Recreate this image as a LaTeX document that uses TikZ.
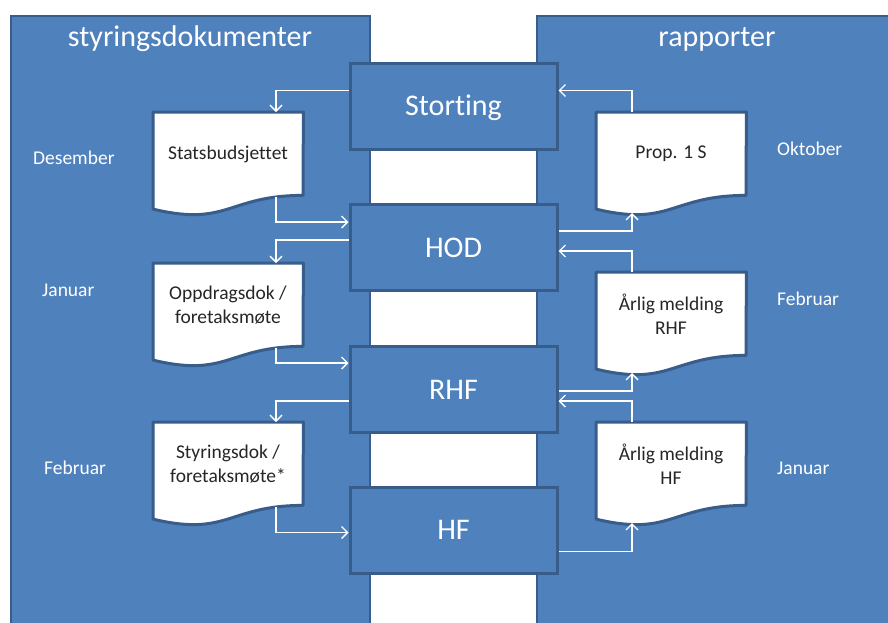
\documentclass[tikz,border=0pt]{standalone}
\usepackage{fontspec}
\setmainfont{Carlito}[Ligatures={NoCommon,NoRare}]
\usetikzlibrary{arrows.meta,calc}
\definecolor{fillblue}{HTML}{4F81BD}
\definecolor{edgeblue}{HTML}{385D8A}
\definecolor{doctxt}{HTML}{262626}
\tikzset{
 panel/.style={fill=fillblue, draw=edgeblue, line width=2.5pt},
 cbox/.style={rectangle, fill=fillblue, draw=edgeblue, line width=3pt, minimum width=207pt, minimum height=86pt, inner sep=0pt, text=white, font=\fontsize{30}{36}\selectfont, text height=22pt, text depth=3pt},
 docanchor/.style={rectangle, minimum width=150pt, minimum height=104pt, inner sep=0pt, anchor=north west},
 docshape/.style={fill=white, draw=edgeblue, line width=3pt, line join=round},
 doctext/.style={text=doctxt, align=center, font=\fontsize{19.5}{23.5}\selectfont},
 side/.style={text=white, anchor=base west, font=\fontsize{19.5}{24}\selectfont, inner sep=0pt},
 paneltitle/.style={text=white, anchor=base, font=\fontsize{30}{36}\selectfont, inner sep=0pt},
 conn/.style={draw=white, line width=1.3pt, -{Straight Barb[length=6pt,width=12pt]}},
}
\newcommand\docnode[4]{%
 \node[docanchor] (#1) at (#2,#3) {};
 \draw[docshape] (#1.north west) -- (#1.north east) -- ($(#1.north west)+(150,83.4)$) .. controls ($(#1.north west)+(75,83.4)$) and ($(#1.north west)+(75,115.1)$) .. ($(#1.north west)+(0,97.1)$) -- cycle;
 \node[doctext] (#1-t) at ($(#1.north west)+(75,42)$) {#4};
}
\begin{document}
\begin{tikzpicture}[x=1pt,y=-1pt]
\useasboundingbox (0,0) rectangle (888,622);
% panels
\draw[panel] (11,16) rectangle (370,640);
\draw[panel] (537,16) rectangle (900,640);
\node[paneltitle] (tl) at (190,46) {styringsdokumenter};
\node[paneltitle] (tr) at (717,46) {rapporter};
% central boxes
\node[cbox] (storting) at (453.5,106) {Storting};
\node[cbox] (hod) at (453.5,247.5) {HOD};
\node[cbox] (rhf) at (453.5,389.5) {RHF};
\node[cbox] (hf) at (453.5,530) {HF};
% documents
\docnode{stats}{153}{112}{Statsbudsjettet}
\docnode{oppd}{153}{263}{Oppdragsdok /\\foretaksmøte}
\docnode{styr}{153}{422}{Styringsdok /\\foretaksmøte*}
\docnode{prop}{596}{112}{Prop. 1 S}
\docnode{arhf}{596}{272}{Årlig melding\\RHF}
\docnode{ahf}{596}{422}{Årlig melding\\HF}
% side labels
\node[side] (l1) at (33,164) {Desember};
\node[side] (l2) at (42,296) {Januar};
\node[side] (l3) at (44,474) {Februar};
\node[side] (r1) at (777,155) {Oktober};
\node[side] (r2) at (777,305) {Februar};
\node[side] (r3) at (777,474) {Januar};
% connectors left
\draw[conn] ($(storting.north west)+(0,29)$) -| ($(stats.north west)+(123,0)$);
\draw[conn] ($(stats.north west)+(123,85)$) |- ($(hod.north west)+(0,19)$);
\draw[conn] ($(hod.north west)+(0,37)$) -| ($(oppd.north west)+(123,0)$);
\draw[conn] ($(oppd.north west)+(123,85)$) |- ($(rhf.north west)+(0,18)$);
\draw[conn] ($(rhf.north west)+(0,56)$) -| ($(styr.north west)+(123,0)$);
\draw[conn] ($(styr.north west)+(123,85)$) |- ($(hf.north west)+(0,47)$);
% connectors right
\draw[conn] ($(prop.north west)+(36,0)$) |- ($(storting.north east)+(0,29)$);
\draw[conn] ($(hod.north east)+(0,28)$) -| ($(prop.north west)+(36,101)$);
\draw[conn] ($(arhf.north west)+(36,0)$) |- ($(hod.north east)+(0,48)$);
\draw[conn] ($(rhf.north east)+(0,46)$) -| ($(arhf.north west)+(36,101)$);
\draw[conn] ($(ahf.north west)+(36,0)$) |- ($(rhf.north east)+(0,56)$);
\draw[conn] ($(hf.north east)+(0,66)$) -| ($(ahf.north west)+(36,101)$);
\end{tikzpicture}
\end{document}
